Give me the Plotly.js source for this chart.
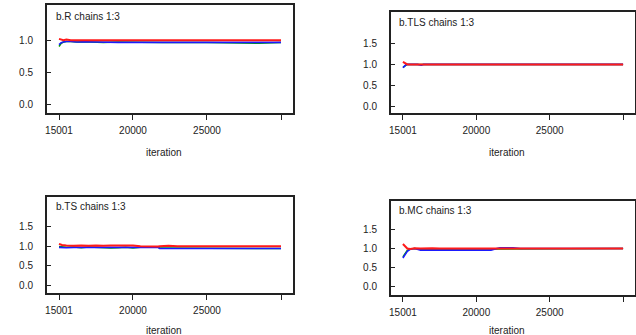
<!DOCTYPE html>
<html>
<head>
<meta charset="utf-8">
<script src="https://cdn.plot.ly/plotly-3.0.1.min.js"></script>
<style>html,body{margin:0;padding:0;background:#fff;}#chart{width:636px;height:335px;}</style>
</head>
<body>
<div id="chart"></div>
<script>
// ---- data ----
const panelTitles = ["b.R chains 1:3", "b.TLS chains 1:3", "b.TS chains 1:3", "b.MC chains 1:3"];
const xTickVals = [15001, 20000, 25000, 30000];
const xTickText = ["15001", "20000", "25000", ""];

// b.R
const iterR  = [15001, 15150, 15300, 15500, 15800, 16200, 16700, 17300, 18000, 19000, 20000, 22000, 25000, 27000, 28500, 30000];
const redR   = [1.02, 1.01, 1.00, 1.01, 1.00, 1.00, 1.005, 1.00, 1.00, 1.00, 1.00, 1.00, 1.00, 1.00, 1.00, 1.00];
const blueR  = [0.93, 0.96, 0.97, 0.98, 0.98, 0.97, 0.975, 0.97, 0.965, 0.965, 0.965, 0.965, 0.965, 0.965, 0.965, 0.965];
const greenR = [0.90, 0.95, 0.97, 0.98, 0.98, 0.97, 0.975, 0.97, 0.965, 0.97, 0.965, 0.965, 0.965, 0.95, 0.95, 0.965];

// b.TLS
const iterTLS  = [15001, 15100, 15200, 15300, 15500, 16000, 16250, 16400, 17000, 20000, 25000, 30000];
const redTLS   = [1.06, 1.04, 1.01, 1.00, 1.00, 1.00, 1.01, 1.00, 1.00, 1.00, 1.00, 1.00];
const blueTLS  = [0.92, 0.96, 0.99, 1.00, 1.00, 1.00, 0.98, 1.00, 1.00, 1.00, 1.00, 1.00];
const greenTLS = [0.94, 0.95, 0.98, 1.00, 1.00, 1.00, 0.99, 1.00, 1.00, 1.00, 1.00, 1.00];

// b.TS
const iterTS  = [15001, 15200, 15500, 16000, 16500, 17000, 17500, 18000, 18500, 19000, 19500, 20000, 20500, 21000, 21700, 21800, 22400, 23000, 25000, 30000];
const redTS   = [1.06, 1.03, 1.02, 1.01, 1.02, 1.01, 1.02, 1.01, 1.02, 1.02, 1.01, 1.02, 1.00, 0.99, 0.99, 1.00, 1.01, 1.00, 1.00, 1.00];
const blueTS  = [0.97, 0.96, 0.96, 0.97, 0.97, 0.98, 0.98, 0.98, 0.97, 0.97, 0.97, 0.97, 0.97, 0.97, 0.97, 0.94, 0.94, 0.94, 0.94, 0.94];
const greenTS = [0.99, 0.98, 0.97, 0.98, 0.96, 0.98, 0.97, 0.97, 0.95, 0.96, 0.97, 0.95, 0.97, 0.97, 0.97, 0.95, 0.95, 0.94, 0.94, 0.94];

// b.MC
const iterMC  = [15001, 15150, 15300, 15500, 15800, 16200, 16600, 17000, 17500, 18500, 19500, 20500, 21000, 21600, 22500, 23000, 25000, 30000];
const redMC   = [1.12, 1.06, 1.00, 0.99, 1.01, 1.00, 1.01, 1.01, 1.00, 1.00, 1.00, 1.00, 1.00, 1.00, 1.00, 1.00, 1.00, 1.00];
const blueMC  = [0.75, 0.85, 0.93, 0.98, 1.00, 0.96, 0.96, 0.96, 0.96, 0.96, 0.96, 0.96, 0.96, 1.02, 1.02, 1.00, 1.00, 1.00];
const greenMC = [0.78, 0.88, 0.95, 0.99, 1.00, 0.98, 0.99, 0.99, 0.98, 0.98, 0.98, 0.98, 0.98, 1.00, 1.00, 1.00, 1.00, 1.00];

const panels = [
  {x: iterR,   red: redR,   blue: blueR,   green: greenR},
  {x: iterTLS, red: redTLS, blue: blueTLS, green: greenTLS},
  {x: iterTS,  red: redTS,  blue: blueTS,  green: greenTS},
  {x: iterMC,  red: redMC,  blue: blueMC,  green: greenMC}
];

// ---- layout geometry (pixels) ----
const W = 636, H = 335;
const boxes = [
  {l: 47,  r: 293, t: 5,   b: 113, yr: [-0.14, 1.55], yt: [0, 0.5, 1.0]},
  {l: 391, r: 635, t: 12,  b: 113, yr: [-0.15, 2.24], yt: [0, 0.5, 1.0, 1.5]},
  {l: 47,  r: 293, t: 197, b: 293, yr: [-0.20, 2.26], yt: [0, 0.5, 1.0, 1.5]},
  {l: 391, r: 635, t: 201, b: 295, yr: [-0.23, 2.26], yt: [0, 0.5, 1.0, 1.5]}
];
const titlePos = [[54, 17], [397, 22], [54, 206], [397, 211]];
const xlabPos = [[164, 153], [507, 153], [164, 330], [507, 330]];

const font = {family: "Liberation Sans, Arial, sans-serif", size: 10, color: "#222"};
const traces = [];
const layout = {
  width: W, height: H,
  margin: {l: 0, r: 0, t: 0, b: 0},
  paper_bgcolor: "#fff", plot_bgcolor: "#fff",
  showlegend: false, font: font,
  annotations: []
};

panels.forEach((p, i) => {
  const n = i === 0 ? "" : String(i + 1);
  const xa = "x" + n, ya = "y" + n;
  const series = [["green", "#00a000", 1.5], ["blue", "#1a1aff", 1.6], ["red", "#ff1a1a", 2]];
  series.forEach(([k, c, w]) => {
    traces.push({x: p.x, y: p[k], xaxis: xa, yaxis: ya, type: "scatter", mode: "lines",
      line: {color: c, width: w}, hoverinfo: "skip"});
  });
  const b = boxes[i];
  layout["xaxis" + n] = {
    domain: [b.l / W, b.r / W], anchor: ya, range: [14190, 30811],
    tickmode: "array", tickvals: xTickVals, ticktext: xTickText,
    ticks: "outside", ticklen: 5, tickwidth: 1, tickcolor: "#222",
    showline: true, mirror: true, linecolor: "#222", linewidth: 2,
    showgrid: false, zeroline: false, tickfont: font, ticklabelstandoff: 2
  };
  layout["yaxis" + n] = {
    domain: [1 - b.b / H, 1 - b.t / H], anchor: xa, range: b.yr,
    tickmode: "array", tickvals: b.yt, ticktext: b.yt.map(v => v.toFixed(1)),
    ticks: "inside", ticklen: 4, tickwidth: 1, tickcolor: "#222",
    showline: true, mirror: true, linecolor: "#222", linewidth: 2,
    showgrid: false, zeroline: false, tickfont: font, ticklabelstandoff: 10
  };
  layout.annotations.push({
    text: panelTitles[i], xref: "paper", yref: "paper",
    x: titlePos[i][0] / W, y: 1 - titlePos[i][1] / H, xanchor: "left", yanchor: "middle",
    showarrow: false, font: font
  });
  layout.annotations.push({
    text: "iteration", xref: "paper", yref: "paper",
    x: xlabPos[i][0] / W, y: 1 - xlabPos[i][1] / H, xanchor: "center", yanchor: "middle",
    showarrow: false, font: font
  });
});

Plotly.newPlot("chart", traces, layout, {staticPlot: true, displayModeBar: false});
</script>
</body>
</html>
